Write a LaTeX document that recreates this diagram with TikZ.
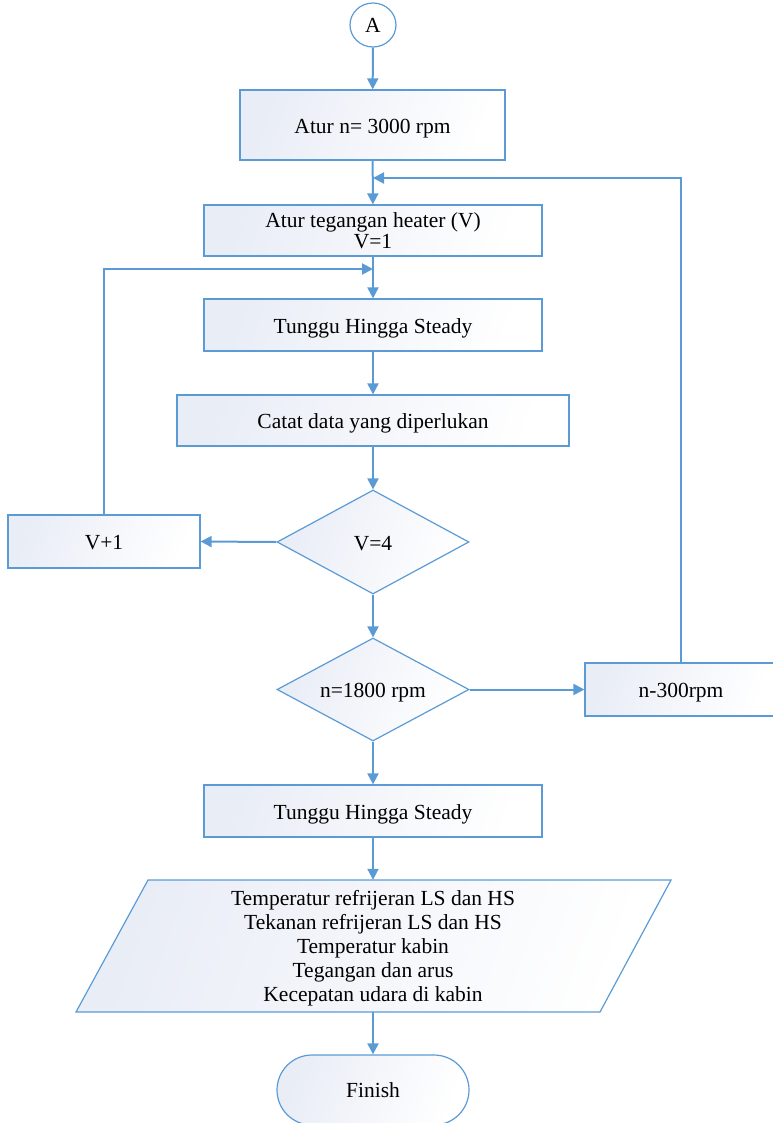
\documentclass[tikz,border=0pt]{standalone}
\usepackage{fontspec}
\setmainfont{Liberation Serif}
\usetikzlibrary{arrows.meta,shapes.geometric}
\definecolor{lnc}{HTML}{5B9BD5}
\definecolor{gradc}{HTML}{E9EDF6}
\begin{document}
\begin{tikzpicture}[x=1pt,y=-1pt,
  every node/.style={font=\fontsize{21.5}{24}\selectfont, text=black, inner sep=0pt},
  shadefill/.style={left color=gradc, right color=white, shading angle=70},
  proc/.style={draw=lnc, line width=1.2pt, shadefill, rectangle, align=center},
  one/.style={text height=16.5pt, text depth=0pt},
  dec/.style={draw=lnc, line width=1.2pt, shadefill, diamond, aspect=1.85, one},
  arr/.style={draw=lnc, line width=2pt, -{Triangle[length=11pt,width=11pt]}},
]
\useasboundingbox (0,0) rectangle (772,1123);
\node[draw=lnc, line width=1.2pt, fill=white, ellipse, minimum width=46pt, minimum height=44pt] (A) at (373,25) {A};
\node[proc, one, minimum width=265pt, minimum height=70pt] (b1) at (372.5,125) {Atur n= 3000 rpm};
\node[proc, minimum width=338pt, minimum height=51pt] (b2) at (373,230.5) {Atur tegangan heater (V)\\[-3pt]V=1};
\node[proc, one, minimum width=338pt, minimum height=52pt] (b3) at (373,325) {Tunggu Hingga Steady};
\node[proc, one, minimum width=392pt, minimum height=51pt] (b4) at (373,420.5) {Catat data yang diperlukan};
\node[dec, minimum width=192pt, minimum height=104pt] (d1) at (373,542) {V=4};
\node[proc, one, minimum width=192pt, minimum height=53pt] (vp) at (104,541.5) {V+1};
\node[dec, minimum width=192pt, minimum height=103pt] (d2) at (373,689.5) {n=1800 rpm};
\node[proc, one, minimum width=192pt, minimum height=53pt] (nm) at (681,689.5) {n-300rpm};
\node[proc, one, minimum width=338pt, minimum height=52pt] (b5) at (373,811) {Tunggu Hingga Steady};
\shade[shadefill, draw=lnc, line width=1.2pt] (148,880) -- (671,880) -- (600,1012) -- (76,1012) -- cycle;
\node[minimum width=300pt, minimum height=132pt] (io) at (373,946) {};
\node[align=center] (iotext) at (373,948) {Temperatur refrijeran LS dan HS\\Tekanan refrijeran LS dan HS\\Temperatur kabin\\Tegangan dan arus\\Kecepatan udara di kabin};
\node[proc, minimum width=192pt, minimum height=70pt, rounded corners=35pt] (fin) at (373,1090) {Finish};
\coordinate (j1) at (373,269);
\coordinate (j2) at (373,178);
\draw[arr] (A) -- (b1);
\draw[arr] (b1) -- (b2);
\draw[arr] (b2) -- (b3);
\draw[arr] (b3) -- (b4);
\draw[arr] (b4) -- (d1);
\draw[arr] (d1.west) -- (vp.east);
\draw[arr] (d1) -- (d2);
\draw[arr] (d2.east) -- (nm.west);
\draw[arr] (d2) -- (b5);
\draw[arr] (b5.south) -- (io.north);
\draw[arr] (io.south) -- (fin);
\draw[arr] (vp.north) |- (j1);
\draw[arr] (nm.north) |- (j2);
\end{tikzpicture}
\end{document}
